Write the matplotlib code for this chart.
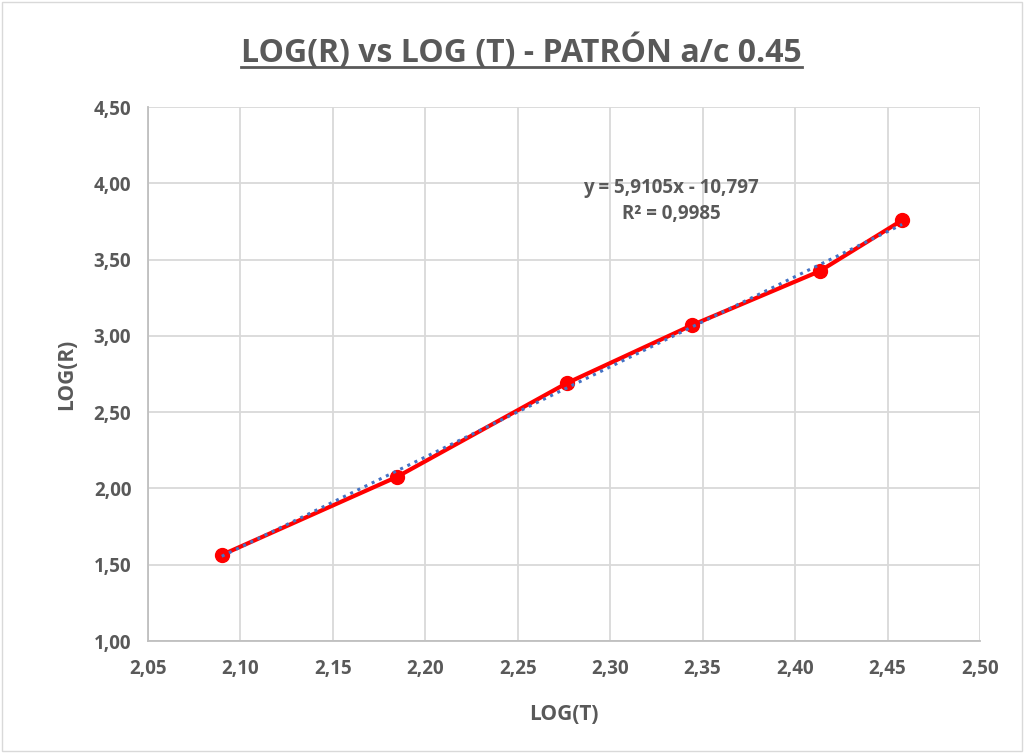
import matplotlib.pyplot as plt
import numpy as np
from matplotlib.lines import Line2D
from matplotlib.patches import Rectangle
from matplotlib.ticker import FixedLocator, FuncFormatter

plt.rcParams['font.family'] = ['Open Sans', 'DejaVu Sans']
plt.rcParams['font.weight'] = 'bold'

# log10 of temperature and resistance
log_t = [2.0899, 2.1847, 2.2765, 2.3444, 2.4133, 2.4579]
log_r = [1.564, 2.076, 2.690, 3.071, 3.424, 3.758]

# linear trendline as reported
slope = 5.9105
intercept = -10.797
r2 = 0.9985

x_ticks = [2.05, 2.10, 2.15, 2.20, 2.25, 2.30, 2.35, 2.40, 2.45, 2.50]
y_ticks = [1.00, 1.50, 2.00, 2.50, 3.00, 3.50, 4.00, 4.50]

grey = '#595959'
grid = '#d9d9d9'

fig = plt.figure(figsize=(10.24, 7.53), dpi=100)
fig.add_artist(Rectangle((0.002, 0.002), 0.996, 0.996, transform=fig.transFigure,
                         fill=False, edgecolor='#d9d9d9', linewidth=1))
ax = fig.add_axes([0.1445, 0.1487, 0.8125, 0.7092])

ax.set_xlim(2.05, 2.50)
ax.set_ylim(1.0, 4.5)
ax.xaxis.set_major_locator(FixedLocator(x_ticks))
ax.yaxis.set_major_locator(FixedLocator(y_ticks))
comma = FuncFormatter(lambda v, p: f'{v:.2f}'.replace('.', ','))
ax.xaxis.set_major_formatter(comma)
ax.yaxis.set_major_formatter(comma)
ax.grid(True, color=grid, linewidth=1.3)
ax.set_axisbelow(True)
for side in ['top', 'right']:
    ax.spines[side].set_visible(False)
for side in ['left', 'bottom']:
    ax.spines[side].set_color('#bfbfbf')
    ax.spines[side].set_linewidth(1.3)
ax.tick_params(axis='x', length=0, pad=13, labelsize=13.5, labelcolor=grey)
ax.tick_params(axis='y', length=0, pad=12, labelsize=13.5, labelcolor=grey)
for lbl in ax.get_xticklabels() + ax.get_yticklabels():
    lbl.set_fontweight('bold')

ax.plot(log_t, log_r, color='#ff0000', linewidth=3, marker='o', markersize=10, zorder=3)
tx = np.array([log_t[0], log_t[-1]])
ax.plot(tx, slope * tx + intercept, color='#4472c4', linewidth=2.2,
        linestyle=(0, (1, 1.6)), zorder=4)

ax.text(2.333, 3.885, f'y = {slope:.4f}x - {abs(intercept):.3f}'.replace('.', ',')
        + '\n' + f'R² = {r2:.4f}'.replace('.', ','),
        ha='center', va='center', fontsize=13.5, color=grey, fontweight='bold',
        linespacing=1.4)

ax.set_xlabel('LOG(T)', fontsize=15, color=grey, fontweight='bold', labelpad=18)
ax.set_ylabel('LOG(R)', fontsize=15, color=grey, fontweight='bold', labelpad=12)

title = fig.text(0.5093, 0.93, 'LOG(R) vs LOG (T) - PATRÓN a/c 0.45', ha='center', va='center',
                 fontsize=23, color=grey, fontweight='bold')
fig.canvas.draw()
bb = title.get_window_extent().transformed(fig.transFigure.inverted())
fig.add_artist(Line2D([bb.x0, bb.x1], [bb.y0 + 0.004, bb.y0 + 0.004], transform=fig.transFigure,
                      color=grey, linewidth=2))

fig.savefig('out.png', dpi=100)
